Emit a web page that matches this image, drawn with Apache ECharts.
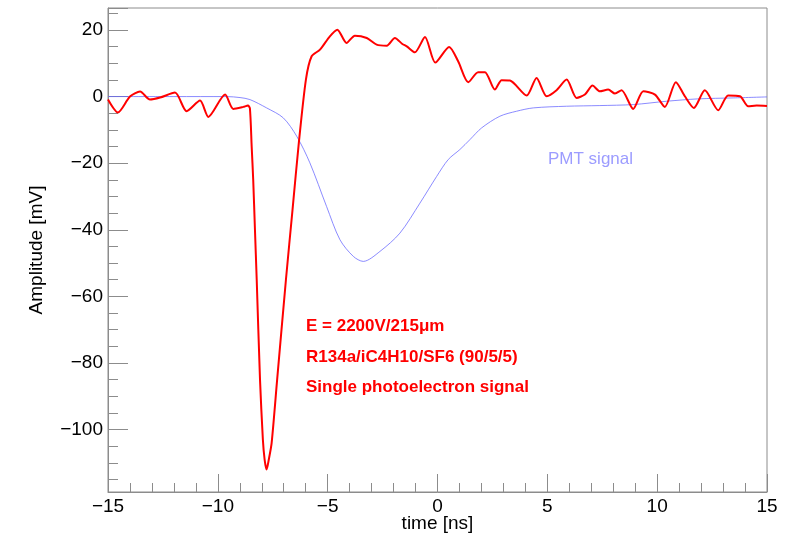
<!DOCTYPE html>
<html>
<head>
<meta charset="utf-8">
<script src="https://cdn.jsdelivr.net/npm/echarts@6/dist/echarts.min.js"></script>
<style>html,body{margin:0;padding:0;background:#fff}#c{width:800px;height:537px}</style>
</head>
<body>
<div id="c"></div>
<script>
// Single photoelectron (red) signal: time [ns], amplitude [mV]
var redTime = [-15.0,-14.55,-14.0,-13.54,-13.09,-12.63,-11.95,-11.42,-10.81,-10.43,-9.67,-9.30,-8.84,-8.63,-8.54,-8.46,-8.39,-8.31,-8.23,-8.08,-7.95,-7.87,-7.78,-7.68,-7.55,-7.30,-6.90,-6.60,-6.31,-5.99,-5.73,-5.35,-4.90,-4.56,-4.14,-3.76,-3.22,-2.77,-2.31,-1.94,-1.60,-1.40,-1.03,-0.57,-0.10,0.53,0.94,1.40,1.85,2.16,2.61,2.92,3.30,4.06,4.51,4.97,5.42,5.88,6.33,6.71,7.06,7.39,7.77,8.08,8.38,8.91,9.37,9.90,10.35,10.85,11.26,11.67,12.17,12.78,13.23,13.77,14.14,14.53,15.0];
var redAmp  = [-0.9,-4.8,0.0,1.5,-0.9,-0.3,1.2,-4.4,-1.2,-6.1,0.6,-3.7,-3.1,-2.7,-3.5,-14.9,-24.9,-40,-55,-85,-103,-109,-112,-109,-104,-85,-55,-34,-13.7,5.1,12.1,14.1,18.1,20.1,16.1,18.3,17.6,15.6,15.3,17.6,15.8,15.1,13.3,17.9,10.2,14.9,10.6,4.3,7.3,7.3,2.1,4.9,4.8,0.3,5.6,0.1,1.9,5.1,-0.4,0.6,3.3,1.6,2.1,0.9,1.9,-3.7,1.6,0.6,-3.1,4.3,0.1,-3.4,1.9,-4.1,0.3,0.1,-2.9,-2.7,-2.8];
// PMT (blue) signal
var pmtTime = [-15.0,-12.0,-9.60,-8.99,-8.54,-7.78,-7.02,-6.41,-5.81,-5.05,-4.44,-3.83,-3.38,-2.62,-1.71,-0.80,-0.04,0.49,1.02,1.48,2.01,2.84,3.60,4.36,5.88,7.39,8.91,10.43,11.84,13.46,15.0];
var pmtAmp  = [0.0,0.0,0.0,-0.3,-0.9,-3.4,-6.4,-11.9,-19.9,-33,-43,-48,-49.5,-46.5,-41,-32,-24,-18.9,-15.9,-12.9,-9.4,-5.9,-4.4,-3.4,-2.9,-2.7,-2.4,-1.4,-0.7,-0.4,-0.1];
var xTitle = 'time [ns]';
var yTitle = 'Amplitude [mV]';
var notes = ['E = 2200V/215\u03bcm', 'R134a/iC4H10/SF6 (90/5/5)', 'Single photoelectron signal'];
var pmtLabel = 'PMT signal';

function pairs(xs, ys){ return xs.map(function(x,i){ return [x, ys[i]]; }); }
function fmt(v){ return String(v).replace('-', '\u2212'); }

var chart = echarts.init(document.getElementById('c'), null, {renderer:'canvas'});
var FONT = 'Liberation Sans';
chart.setOption({
  animation: false,
  backgroundColor: '#fff',
  grid: {left:108, right:33, top:8, bottom:45, show:true, borderColor:'#8c8c8c', borderWidth:1, backgroundColor:'transparent', containLabel:false, outerBoundsMode:'none'},
  xAxis: {
    type:'value', min:-15, max:15, interval:5,
    axisLine:{onZero:false, lineStyle:{color:'#8c8c8c'}},
    axisTick:{inside:true, length:18, lineStyle:{color:'#8c8c8c'}},
    minorTick:{show:true, splitNumber:5, length:9, lineStyle:{color:'#8c8c8c'}},
    axisLabel:{fontFamily:FONT, fontSize:19, color:'#000', margin:5, formatter: fmt},
    splitLine:{show:false}
  },
  yAxis: {
    type:'value', min:-118.75, max:26.6, splitNumber:7,
    name: yTitle, nameLocation:'middle', nameGap:62, nameRotate:90,
    nameTextStyle:{fontFamily:FONT, fontSize:19, color:'#000'},
    axisLine:{show:true, onZero:false, lineStyle:{color:'#8c8c8c'}},
    axisTick:{inside:true, length:20, lineStyle:{color:'#8c8c8c'}},
    minorTick:{show:true, splitNumber:4, length:10, lineStyle:{color:'#8c8c8c'}},
    axisLabel:{fontFamily:FONT, fontSize:19, color:'#000', margin:5, showMinLabel:false, showMaxLabel:false,
      formatter:function(v){ return (Math.abs(v % 20) < 1e-6) ? fmt(v) : ''; }},
    splitLine:{show:false}
  },
  series: [
    {type:'line', data:pairs(pmtTime, pmtAmp), showSymbol:false, smooth:0.3,
     lineStyle:{color:'rgba(100,100,255,0.75)', width:1}, z:2},
    {type:'line', data:pairs(redTime, redAmp), showSymbol:false, smooth:0.25,
     lineStyle:{color:'#ff0000', width:2}, z:3}
  ],
  graphic: [
    {type:'text', x:437.5, y:524, style:{text:xTitle, fill:'#000', align:'center', verticalAlign:'middle', font:'19px "Liberation Sans"'}},
    {type:'text', left:306, top:318, style:{text:notes[0], fill:'#ff0000', font:'bold 17px "Liberation Sans"'}},
    {type:'text', left:306, top:349, style:{text:notes[1], fill:'#ff0000', font:'bold 17px "Liberation Sans"'}},
    {type:'text', left:306, top:379, style:{text:notes[2], fill:'#ff0000', font:'bold 17px "Liberation Sans"'}},
    {type:'text', left:548, top:151, style:{text:pmtLabel, fill:'#9c9cff', font:'17px "Liberation Sans"'}}
  ]
});
</script>
</body>
</html>
